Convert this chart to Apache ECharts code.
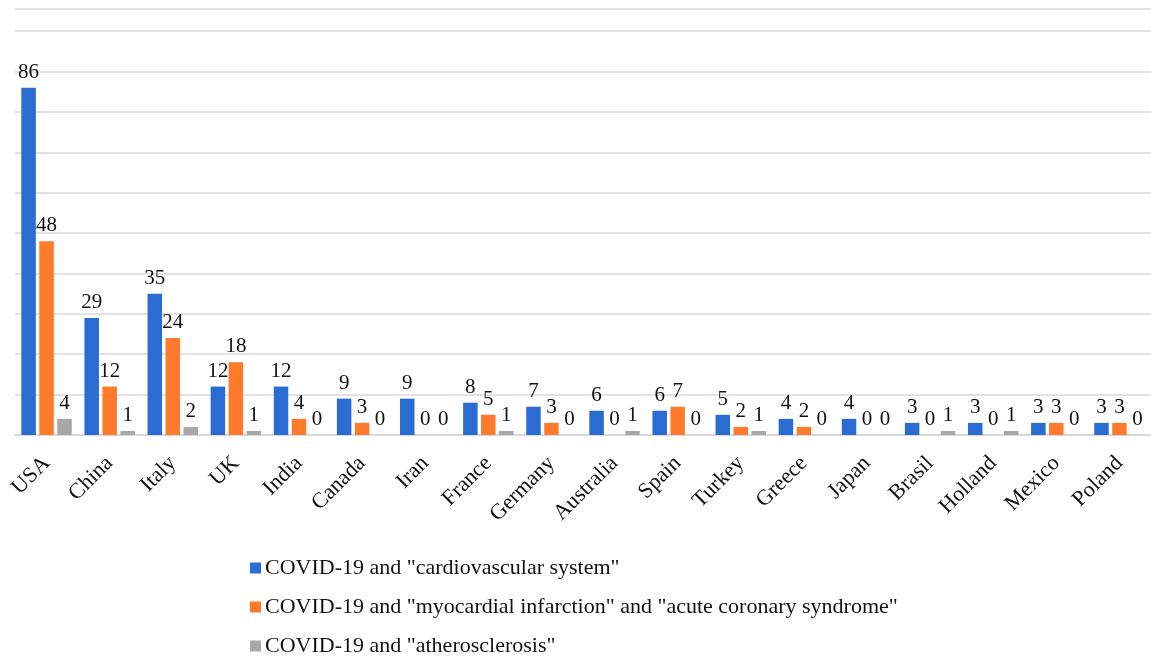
<!DOCTYPE html>
<html>
<head>
<meta charset="utf-8">
<script src="https://cdn.jsdelivr.net/npm/echarts@6/dist/echarts.min.js"></script>
<style>
html,body{margin:0;padding:0;background:#fff;}
#chart{width:1151px;height:659px;}
</style>
</head>
<body>
<div id="chart"></div>
<script>
const categories = ["USA","China","Italy","UK","India","Canada","Iran","France","Germany","Australia","Spain","Turkey","Greece","Japan","Brasil","Holland","Mexico","Poland"];
const cardiovascular = [86,29,35,12,12,9,9,8,7,6,6,5,4,4,3,3,3,3];
const myocardial = [48,12,24,18,4,3,0,5,3,0,7,2,2,0,0,0,3,3];
const atherosclerosis = [4,1,2,1,0,0,0,1,0,1,0,1,0,0,1,1,0,0];
const seriesNames = [
  'COVID-19 and "cardiovascular system"',
  'COVID-19 and "myocardial infarction" and "acute coronary syndrome"',
  'COVID-19 and "atherosclerosis"'
];
const colors = ["#2B6CD2","#FF7A2B","#A8A8A8"];

const serif = "'Liberation Serif','DejaVu Serif',serif";
const chart = echarts.init(document.getElementById('chart'));
function mk(name, data, color){
  return {
    name: name, type: 'bar', data: data,
    barWidth: 14.5, barGap: '24%',
    itemStyle: {color: color},
    label: {show: true, position: 'top', distance: 5, color: '#111', fontFamily: serif, fontSize: 21},
    emphasis: {disabled: true}
  };
}
chart.setOption({
  animation: false,
  color: colors,
  grid: {left: 15, width: 1141, top: 9, bottom: 224, containLabel: false},
  xAxis: {
    type: 'category', data: categories,
    axisLine: {show: true, lineStyle: {color: '#d6d6d6', width: 1.5}},
    axisTick: {show: false},
    axisLabel: {rotate: 45, color: '#111', fontFamily: serif, fontSize: 22, margin: 25, interval: 0}
  },
  yAxis: {
    type: 'value', min: 0, max: 105.5, interval: 10,
    axisLabel: {show: false}, axisLine: {show: false}, axisTick: {show: false},
    splitLine: {lineStyle: {color: '#d9d9d9', width: 1.5}}
  },
  legend: {
    orient: 'vertical', left: 250, top: 557, height: 110, padding: 0,
    itemWidth: 11, itemHeight: 11, itemGap: 17,
    icon: 'rect',
    textStyle: {color: '#111', fontFamily: serif, fontSize: 22, padding: [0,0,0,-1]},
    data: seriesNames
  },
  series: [
    mk(seriesNames[0], cardiovascular, colors[0]),
    mk(seriesNames[1], myocardial, colors[1]),
    mk(seriesNames[2], atherosclerosis, colors[2])
  ]
});
</script>
</body>
</html>
